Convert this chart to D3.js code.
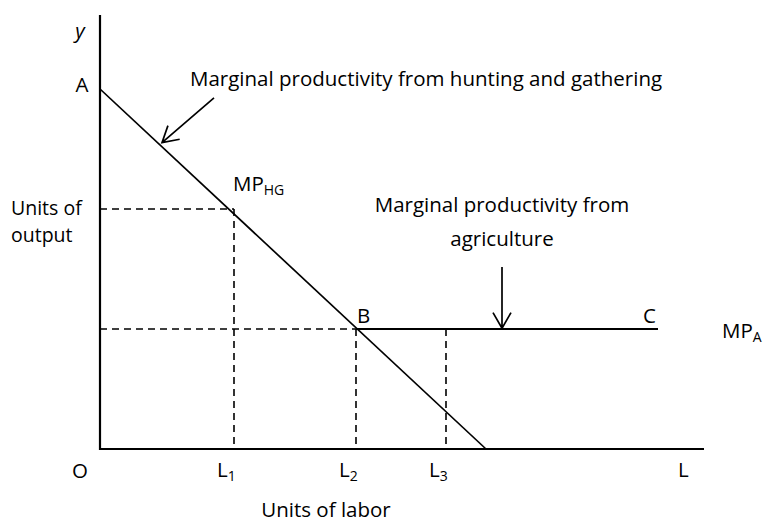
<!DOCTYPE html>
<html>
<head>
<meta charset="utf-8">
<script src="https://cdn.jsdelivr.net/npm/d3@7"></script>
<style>
  html, body { margin: 0; padding: 0; background: #fff; }
  svg text { font-family: "Open Sans", "Noto Sans", sans-serif; fill: #000; }
</style>
</head>
<body>
<svg id="chart" width="765" height="523"></svg>
<script>
// values (labor units on x, output units on y)
const hgCurve = [[0, 9.0], [9.65, 0]];
const agCurve = [[6.4, 3.0], [13.95, 3.0]];
const axisExtent = { x: 15.1, y: 10.85 };
const laborMarks = [
  { label: 'L', sub: '1', x: 3.35 },
  { label: 'L', sub: '2', x: 6.4 },
  { label: 'L', sub: '3', x: 8.65 }
];
const guides = [
  { x: 3.35, y: 6.0, horizontal: true },
  { x: 6.4, y: 3.0, horizontal: true },
  { x: 8.65, y: 3.0, horizontal: false }
];
const arrows = [
  { from: [2.85, 8.78], to: [1.55, 7.66] },
  { from: [10.05, 4.55], to: [10.05, 3.02] }
];

const svg = d3.select('#chart');
const x = d3.scaleLinear().domain([0, 15]).range([100, 700]);
const y = d3.scaleLinear().domain([0, 10]).range([449, 49]);
const line = d3.line().x(d => x(d[0])).y(d => y(d[1]));

// dashed guides first so solid lines sit on top
const g = svg.append('g').attr('class', 'guides')
  .attr('stroke', '#000').attr('stroke-width', 1.6).attr('stroke-dasharray', '7,5').attr('fill', 'none');
guides.forEach(d => {
  if (d.horizontal) g.append('path').attr('d', line([[0, d.y], [d.x, d.y]]));
  g.append('path').attr('d', line([[d.x, d.y], [d.x, 0]]));
});

// axes
svg.append('path').attr('d', line([[0, axisExtent.y], [0, 0], [axisExtent.x, 0]]))
  .attr('fill', 'none').attr('stroke', '#000').attr('stroke-width', 2.2);

// curves
svg.append('path').attr('d', line(hgCurve)).attr('fill', 'none').attr('stroke', '#000').attr('stroke-width', 1.7);
svg.append('path').attr('d', line(agCurve)).attr('fill', 'none').attr('stroke', '#000').attr('stroke-width', 2);

// annotation arrows with open heads
arrows.forEach(a => {
  const x0 = x(a.from[0]), y0 = y(a.from[1]), x1 = x(a.to[0]), y1 = y(a.to[1]);
  const ang = Math.atan2(y1 - y0, x1 - x0), len = 18, spread = Math.PI / 6;
  const h1 = [x1 - len * Math.cos(ang - spread), y1 - len * Math.sin(ang - spread)];
  const h2 = [x1 - len * Math.cos(ang + spread), y1 - len * Math.sin(ang + spread)];
  svg.append('path')
    .attr('d', `M${x0},${y0}L${x1},${y1}M${h1[0]},${h1[1]}L${x1},${y1}L${h2[0]},${h2[1]}`)
    .attr('fill', 'none').attr('stroke', '#000').attr('stroke-width', 1.7);
});

const fs = 20.5;
function label(tx, ty, text, anchor, sub, italic, size) {
  const t = svg.append('text').attr('x', tx).attr('y', ty).attr('font-size', size || fs)
    .attr('text-anchor', anchor || 'start');
  if (italic) t.attr('font-style', 'italic');
  t.append('tspan').text(text);
  if (sub) t.append('tspan').attr('font-size', 14).attr('dy', 4).text(sub);
  return t;
}

// axis letters
label(x(0) - 20, 38, 'y', 'middle', null, true);
label(x(0) - 18, y(hgCurve[0][1]) + 3, 'A', 'middle');
label(x(0) - 20, 478, 'O', 'middle');
laborMarks.forEach(m => label(x(m.x) - 17, 477, m.label, 'start', m.sub));
label(x(axisExtent.x) - 26, 477, 'L', 'start');
label(326, 517, 'Units of labor', 'middle');
label(11, 215, 'Units of', 'start', null, false, 19.5);
label(11, 242, 'output', 'start', null, false, 19.5);

// curve labels
label(x(guides[0].x) - 1, 191, 'MP', 'start', 'HG');
label(x(agCurve[0][0]) + 1, y(3) - 6, 'B', 'start');
label(x(agCurve[1][0]) - 15, y(3) - 6, 'C', 'start');
label(722, y(3) + 9, 'MP', 'start', 'A');

// descriptions
label(190, 86, 'Marginal productivity from hunting and gathering', 'start');
label(x(10.05), 212, 'Marginal productivity from', 'middle');
label(x(10.05), 246, 'agriculture', 'middle');
</script>
</body>
</html>
